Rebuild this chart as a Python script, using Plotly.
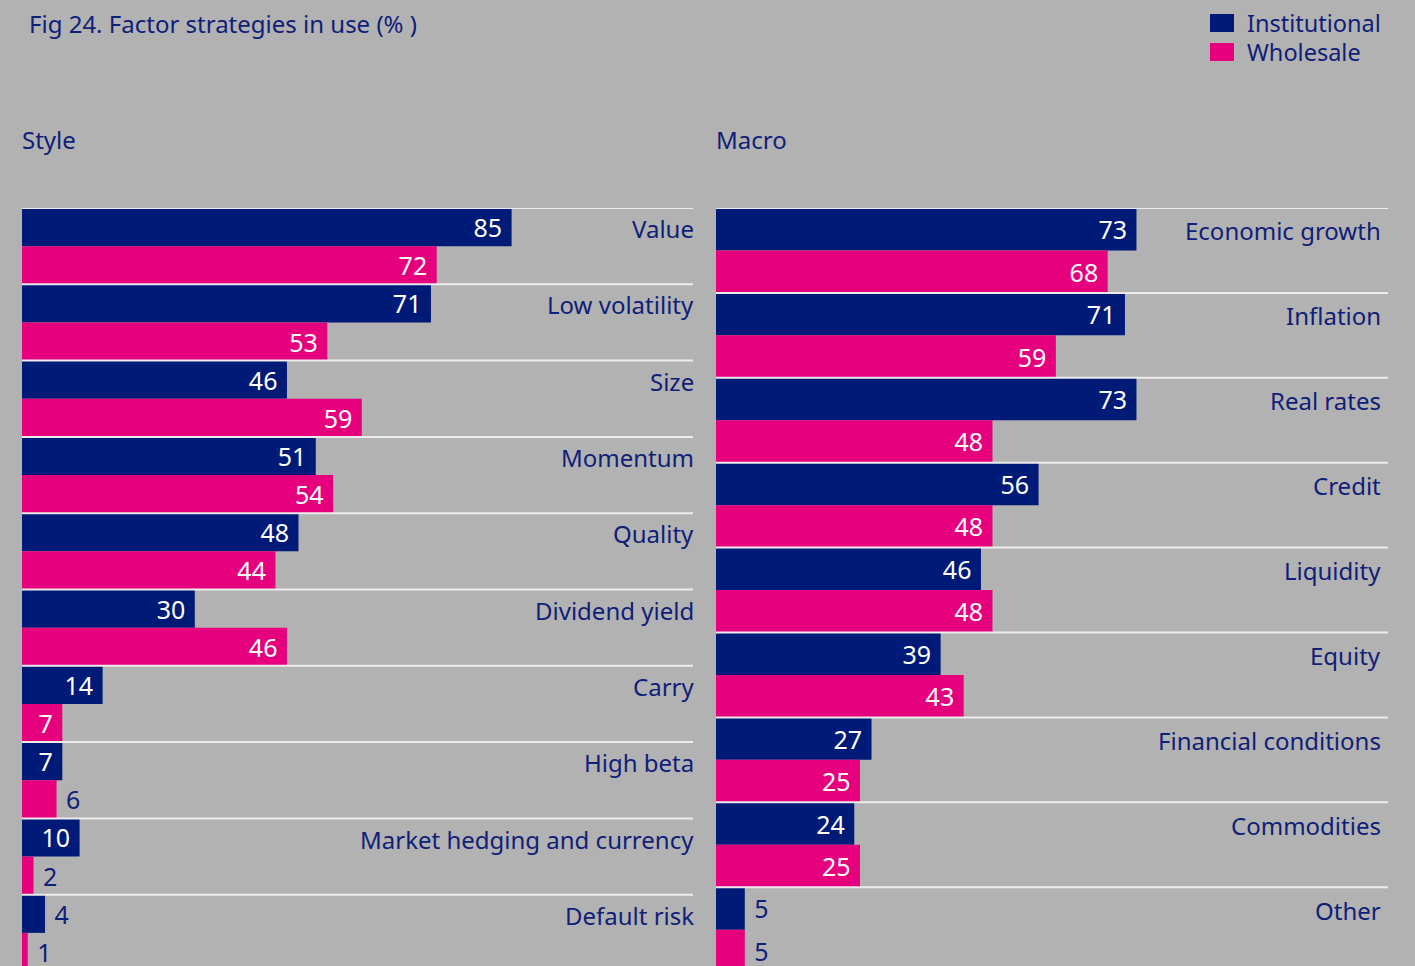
import plotly.graph_objects as go

# Style factors (left panel)
style_factors = ["Value", "Low volatility", "Size", "Momentum", "Quality",
                 "Dividend yield", "Carry", "High beta",
                 "Market hedging and currency", "Default risk"]
style_institutional = [85, 71, 46, 51, 48, 30, 14, 7, 10, 4]
style_wholesale = [72, 53, 59, 54, 44, 46, 7, 6, 2, 1]

# Macro factors (right panel)
macro_factors = ["Economic growth", "Inflation", "Real rates", "Credit",
                 "Liquidity", "Equity", "Financial conditions",
                 "Commodities", "Other"]
macro_institutional = [73, 71, 73, 56, 46, 39, 27, 24, 5]
macro_wholesale = [68, 59, 48, 48, 48, 43, 25, 25, 5]

NAVY = "#001a78"
PINK = "#e6007e"
TEXT = "#0f2079"
BG = "#b2b2b2"
FONT = "Noto Sans"
W, H = 1415, 966


def bar_trace(values, offset, color, xa, ya):
    inside = [v >= 7 for v in values]
    return go.Bar(
        x=values,
        y=[i + offset for i in range(len(values))],
        orientation="h",
        width=0.5,
        marker=dict(color=color, line=dict(width=0)),
        text=[f"{v}\u00a0" if ins else f"\u00a0{v}" for v, ins in zip(values, inside)],
        textposition=["inside" if ins else "outside" for ins in inside],
        insidetextanchor="end",
        textangle=0,
        textfont=dict(family=FONT, size=25,
                      color=["white" if ins else TEXT for ins in inside]),
        constraintext="none",
        cliponaxis=False,
        showlegend=False,
        hoverinfo="skip",
        xaxis=xa, yaxis=ya,
    )


fig = go.Figure()
fig.add_trace(bar_trace(style_institutional, -0.25, NAVY, "x", "y"))
fig.add_trace(bar_trace(style_wholesale, 0.25, PINK, "x", "y"))
fig.add_trace(bar_trace(macro_institutional, -0.25, NAVY, "x2", "y2"))
fig.add_trace(bar_trace(macro_wholesale, 0.25, PINK, "x2", "y2"))

top = (H - 208) / H
# visible part of the last group is slightly cut by the page bottom
left_rows = 758 / 76.3
right_rows = 758 / 84.9

axis_common = dict(showgrid=False, zeroline=False, showticklabels=False,
                   showline=False, ticks="", fixedrange=True)
fig.update_layout(
    width=W, height=H,
    margin=dict(l=0, r=0, t=0, b=0),
    paper_bgcolor=BG, plot_bgcolor=BG,
    barmode="overlay",
    font=dict(family=FONT, color=TEXT),
    xaxis=dict(domain=[22 / W, 693 / W], range=[0, 671 / 5.76], **axis_common),
    yaxis=dict(domain=[0, top], range=[left_rows - 0.5, -0.5], **axis_common),
    xaxis2=dict(domain=[716 / W, 1388 / W], range=[0, 672 / 5.76],
                anchor="y2", **axis_common),
    yaxis2=dict(domain=[0, top], range=[right_rows - 0.5, -0.5],
                anchor="x2", **axis_common),
)

annotations = []
shapes = []
for names, xr, yr, xpos in [(style_factors, "x domain", "y", 1.0),
                            (macro_factors, "x2 domain", "y2", 0.988)]:
    for i, name in enumerate(names):
        annotations.append(dict(
            text=name, xref=xr, yref=yr, x=xpos, y=i - 0.23, xshift=3,
            xanchor="right", yanchor="middle", showarrow=False,
            font=dict(family=FONT, size=24, color=TEXT)))
        shapes.append(dict(
            type="line", xref=xr, yref=yr, x0=0, x1=1, y0=i - 0.5, y1=i - 0.5,
            line=dict(color="#ececec", width=2), layer="above"))

# titles
annotations.append(dict(text="Fig 24. Factor strategies in use (% )",
                        xref="paper", yref="paper", x=30 / W, y=1 - 23 / H, xshift=-3,
                        xanchor="left", yanchor="middle", showarrow=False,
                        font=dict(family=FONT, size=24, color=TEXT)))
annotations.append(dict(text="Style", xref="paper", yref="paper",
                        x=22 / W, y=1 - 140 / H, xshift=-2, xanchor="left", yanchor="middle",
                        showarrow=False, font=dict(family=FONT, size=24, color=TEXT)))
annotations.append(dict(text="Macro", xref="paper", yref="paper",
                        x=716 / W, y=1 - 140 / H, xshift=-2, xanchor="left", yanchor="middle",
                        showarrow=False, font=dict(family=FONT, size=24, color=TEXT)))

# legend
for label, color, yc in [("Institutional", NAVY, 23), ("Wholesale", PINK, 52)]:
    shapes.append(dict(type="rect", xref="paper", yref="paper",
                       x0=1210 / W, x1=1234 / W, y0=1 - (yc + 9) / H, y1=1 - (yc - 9) / H,
                       fillcolor=color, line=dict(width=0)))
    annotations.append(dict(text=label, xref="paper", yref="paper",
                            x=1246 / W, y=1 - yc / H, xshift=-1, xanchor="left", yanchor="middle",
                            showarrow=False, font=dict(family=FONT, size=23.5, color=TEXT)))

fig.update_layout(annotations=annotations, shapes=shapes)

fig.write_html("out.html", config={"displayModeBar": False},
               post_script="document.body.style.margin='0';")
